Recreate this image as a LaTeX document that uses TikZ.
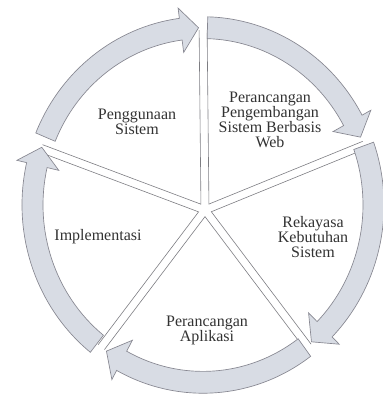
\documentclass[tikz,border=0pt]{standalone}
\usepackage{fontspec}
\setmainfont{Liberation Serif}
\usetikzlibrary{calc}
\definecolor{arrowfill}{RGB}{216,220,228}
\definecolor{arrowline}{RGB}{135,135,145}
\definecolor{spokeline}{RGB}{125,125,130}
\definecolor{txt}{RGB}{50,50,50}
\tikzset{
  arrowstyle/.style={draw=arrowline, fill=arrowfill, line width=0.5pt, line join=miter},
  spokestyle/.style={draw=spokeline, line width=0.45pt},
  label/.style={text=txt, align=center, font=\fontsize{12}{11.3}\selectfont, inner sep=0pt}
}
% ring arrow: tail angle, tip angle
\newcommand{\cyclearrow}[2]{%
  \pgfmathsetmacro{\hb}{#2+6}%
  \draw[arrowstyle] (#1:181) arc[start angle=#1, end angle=\hb, radius=181]
    -- (\hb:191) -- (#2:170.5) -- (\hb:148) -- (\hb:160)
    arc[start angle=\hb, end angle=#1, radius=160] -- cycle;
}
% sector outline: angle1, length1, angle2, length2 (angle1 > angle2)
\newcommand{\sectorlines}[4]{%
  \pgfmathsetmacro{\md}{(#1+#3)/2}%
  \pgfmathsetmacro{\dd}{4/sin((#1-#3)/2)}%
  \pgfmathsetmacro{\oa}{#1-90}%
  \pgfmathsetmacro{\ob}{#3+90}%
  \draw[spokestyle] ($(hub)+(#1:#2)+(\oa:4)$) -- ($(hub)+(\md:\dd)$) -- ($(hub)+(#3:#4)+(\ob:4)$);
}
\begin{document}
\begin{tikzpicture}[x=0.75pt, y=0.75pt]
\useasboundingbox (-203,-190) rectangle (179,205);
\coordinate (hub) at (2,-5);
% sector boundaries (double white spokes)
\sectorlines{159.4}{175}{90.6}{180}
\sectorlines{90.6}{180}{22.2}{172}
\sectorlines{22.2}{172}{-53}{171}
\sectorlines{-53}{171}{-127.1}{172}
\sectorlines{232.9}{172}{159.4}{175}
% ring of arrows
\begin{scope}[yscale=1.04]
\cyclearrow{157.5}{91.5}
\cyclearrow{88.5}{22.5}
\cyclearrow{19.5}{-50.5}
\cyclearrow{-53.5}{-124.5}
\cyclearrow{231.5}{161}
\end{scope}
% labels
\node[label] (t1) at (-66,83) {Penggunaan\\Sistem};
\node[label] (t2) at (67,85) {Perancangan\\Pengembangan\\Sistem Berbasis\\Web};
\node[label] (t3) at (-105,-32) {Implementasi};
\node[label] (t4) at (110,-32) {Rekayasa\\Kebutuhan\\Sistem};
\node[label] (t5) at (4,-125) {Perancangan\\Aplikasi};
\end{tikzpicture}
\end{document}
